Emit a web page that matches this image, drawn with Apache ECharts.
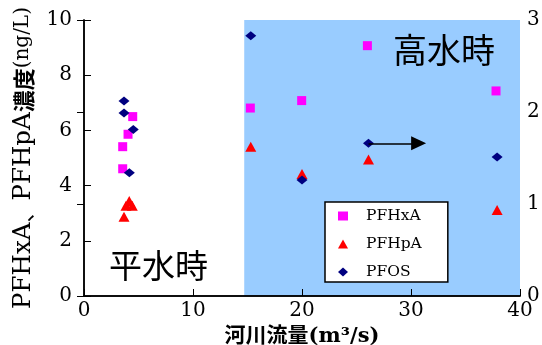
<!DOCTYPE html>
<html><head><meta charset="utf-8">
<script src="https://cdn.jsdelivr.net/npm/echarts@6/dist/echarts.min.js"></script>
<style>html,body{margin:0;padding:0;background:#fff}#c{width:542px;height:345px}</style>
</head><body><div id="c"></div>
<script>
const xTicks = [0, 10, 20, 30, 40];
const leftTicks = [0, 2, 4, 6, 8, 10];
const rightTicks = [0, 1, 2, 3];
const pfhxa = [[3.55,4.61],[3.55,5.41],[4.04,5.86],[4.47,6.5],[15.26,6.81],[19.97,7.08],[26.0,9.07],[37.8,7.43]];
const pfhpa = [[3.85,3.27],[4.15,3.44],[4.43,3.27],[3.67,2.87],[15.3,5.41],[20.0,4.42],[26.1,4.95],[37.9,3.12]];
const pfos = [[3.67,2.12],[3.67,1.99],[4.52,1.81],[4.16,1.34],[15.3,2.83],[20.0,1.26],[26.1,1.66],[37.9,1.51]];
const highFlowStart = 14.7;
const arrowFrom = [26.1, 1.66];
const arrowTo = [30.7, 1.66];

const serif = 'DejaVu Serif';
const cjk = 'Noto Sans CJK JP';
const chart = echarts.init(document.getElementById('c'));
const tickLabel = {color:'#000', fontFamily: serif, fontSize: 20};
chart.setOption({
  backgroundColor: '#fff',
  animation: false,
  grid: {left: 84, right: 22, top: 20, bottom: 49, containLabel: false, outerBoundsMode: 'none'},
  legend: {
    orient: 'vertical', left: 325, top: 202,
    backgroundColor: '#fff', borderColor: '#000', borderWidth: 1.5, borderRadius: 0,
    padding: [6, 26, 2, 13], itemGap: 12, itemWidth: 10, itemHeight: 9,
    textStyle: {fontFamily: serif, fontSize: 15.5, color: '#000', lineHeight: 16, padding: [0,0,0,13]},
    data: ['PFHxA', 'PFHpA', 'PFOS']
  },
  xAxis: [{
    type: 'value', min: 0, max: 40, interval: 10, z: 10,
    name: '河川流量(m³/s)', nameLocation: 'middle', nameGap: 23,
    nameTextStyle: {fontFamily: serif + ',' + cjk, fontWeight: 'bold', fontSize: 21, color: '#000'},
    axisLine: {show: true, lineStyle: {color: '#000', width: 1.5}},
    axisTick: {show: true, inside: true, length: 7, lineStyle: {color: '#000', width: 1}},
    axisLabel: Object.assign({margin: 5, formatter: v => xTicks.includes(v) ? String(v) : ''}, tickLabel),
    splitLine: {show: false}
  }, {
    type: 'value', min: 0, max: 40, position: 'top', z: 10,
    axisLine: {show: true, lineStyle: {color: '#000', width: 1.5}},
    axisTick: {show: false}, axisLabel: {show: false}, splitLine: {show: false}
  }],
  yAxis: [{
    type: 'value', min: 0, max: 10, interval: 2, z: 10,
    name: '{a|PFHxA}{c|、}{a|PFHpA}{b|濃度}{d|(ng/L)}', nameLocation: 'middle', nameGap: 44,
    nameTextStyle: {color: '#000', rich: {
      a: {fontFamily: serif, fontSize: 24.5, color: '#000'},
      c: {fontFamily: cjk, fontSize: 22, color: '#000'},
      b: {fontFamily: cjk, fontSize: 22, fontWeight: 'bold', color: '#000'},
      d: {fontFamily: serif, fontSize: 20, color: '#000'}
    }},
    axisLine: {show: true, lineStyle: {color: '#000', width: 1.5}},
    axisTick: {show: true, inside: true, length: 7, lineStyle: {color: '#000', width: 1}},
    axisLabel: Object.assign({margin: 12, formatter: v => leftTicks.includes(v) ? String(v) : ''}, tickLabel),
    splitLine: {show: false}
  }, {
    type: 'value', min: 0, max: 3, interval: 1, position: 'right', z: 10,
    axisLine: {show: true, lineStyle: {color: '#000', width: 1.5}},
    axisTick: {show: true, inside: true, length: 7, lineStyle: {color: '#000', width: 1}},
    axisLabel: Object.assign({margin: 7, formatter: v => rightTicks.includes(v) ? String(v) : ''}, tickLabel),
    splitLine: {show: false}
  }],
  series: [{
    type: 'scatter', data: [], z: 1, silent: true,
    markArea: {silent: true, itemStyle: {color: '#99CCFF', opacity: 1},
      data: [[{xAxis: highFlowStart, yAxis: 0}, {xAxis: 40, yAxis: 10}]]}
  }, {
    name: 'PFHxA', type: 'scatter', data: pfhxa, symbol: 'rect', symbolSize: 9,
    itemStyle: {color: '#FF00FF', opacity: 1}
  }, {
    name: 'PFHpA', type: 'scatter', data: pfhpa, symbol: 'triangle', symbolSize: [11, 10],
    itemStyle: {color: '#FF0000', opacity: 1}
  }, {
    name: 'PFOS', type: 'scatter', data: pfos, yAxisIndex: 1, symbol: 'diamond', symbolSize: [11, 9],
    itemStyle: {color: '#000080', opacity: 1},
    markLine: {silent: true, symbol: ['none', 'triangle'], symbolSize: [14, 15],
      lineStyle: {color: '#000', width: 1.5, type: 'solid'}, label: {show: false},
      data: [[{coord: arrowFrom}, {coord: arrowTo}]]}
  }],
  graphic: [
    {type: 'text', left: 393, top: 33, z: 100, style: {text: '高水時', fontFamily: cjk, fontSize: 34, fill: '#000'}},
    {type: 'text', left: 109, top: 249, z: 100, style: {text: '平水時', fontFamily: cjk, fontSize: 33, fill: '#000'}}
  ]
});
</script></body></html>
